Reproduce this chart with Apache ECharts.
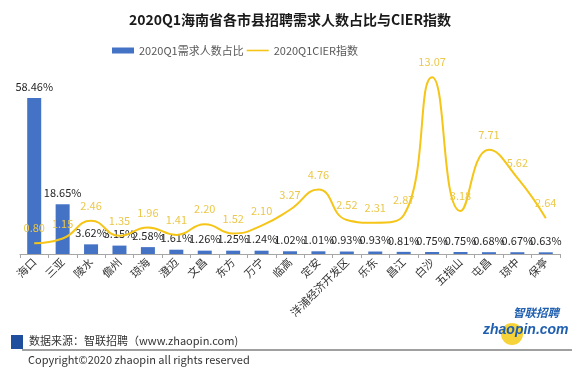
<!DOCTYPE html>
<html><head><meta charset="utf-8">
<script src="https://cdn.jsdelivr.net/npm/echarts@6/dist/echarts.min.js"></script>
<style>html,body{margin:0;padding:0;background:#fff}#c{width:580px;height:378px}</style>
</head><body><div id="c"></div>
<script>
const categories = ['海口','三亚','陵水','儋州','琼海','澄迈','文昌','东方','万宁','临高','定安','洋浦经济开发区','乐东','昌江','白沙','五指山','屯昌','琼中','保亭'];
const demandShare = [58.46,18.65,3.62,3.15,2.58,1.61,1.26,1.25,1.24,1.02,1.01,0.93,0.93,0.81,0.75,0.75,0.68,0.67,0.63];
const cierIndex = [0.80,1.15,2.46,1.35,1.96,1.41,2.20,1.52,2.10,3.27,4.76,2.52,2.31,2.87,13.07,3.18,7.71,5.62,2.64];
const seriesNames = ['2020Q1需求人数占比','2020Q1CIER指数'];

const font = '"Microsoft YaHei","Noto Sans CJK SC","Noto Sans",sans-serif';
const chart = echarts.init(document.getElementById('c'), null, {renderer:'canvas'});
chart.setOption({
  animation:false,
  textStyle:{fontFamily:font},
  title:{text:'2020Q1海南省各市县招聘需求人数占比与CIER指数',left:'center',top:8,
    textStyle:{fontSize:14,fontWeight:'bold',color:'#1a1a1a',fontFamily:font}},
  legend:{top:40,left:107,itemWidth:22,itemHeight:6,itemGap:3,
    textStyle:{fontSize:11,color:'#595959',fontFamily:font},
    data:[{name:seriesNames[0],icon:'rect'},
          {name:seriesNames[1],icon:'path://M0,0 H22 V1.6 H0 Z',itemStyle:{color:'#F5C518',opacity:1}}]},
  grid:{left:20,right:20,top:70,bottom:124},
  xAxis:{type:'category',data:categories,
    axisLine:{lineStyle:{color:'#a6a6a6'}},
    axisTick:{show:true,length:4,lineStyle:{color:'#a6a6a6'}},
    axisLabel:{rotate:45,fontSize:11,color:'#333',interval:0,margin:6,fontFamily:font}},
  yAxis:[{type:'value',min:0,max:69,show:false,splitLine:{show:false}},
         {type:'value',min:0,max:13.6,show:false,splitLine:{show:false}}],
  series:[
    {name:seriesNames[0],type:'bar',data:demandShare,barWidth:14,yAxisIndex:0,
     itemStyle:{color:'#4472C4'},
     label:{show:true,position:'top',distance:6,fontSize:11,color:'#262626',
       formatter:p=>p.value.toFixed(2)+'%'}},
    {name:seriesNames[1],type:'line',data:cierIndex,yAxisIndex:1,smooth:0.5,
     symbol:'circle',symbolSize:1,showSymbol:true,
     lineStyle:{color:'#F5C518',width:2},itemStyle:{color:'rgba(245,197,24,0)'},
     label:{show:true,position:'top',distance:9,fontSize:11,color:'#EBC84A',
       formatter:p=>p.value.toFixed(2)}},
  ],
  graphic:[
    {type:'rect',shape:{x:11,y:335,width:12,height:14},style:{fill:'#1F4E9E'}},
    {type:'text',style:{x:29,y:341,text:'数据来源：智联招聘（www.zhaopin.com)',fontSize:11,fill:'#333',verticalAlign:'middle',fontFamily:font}},
    {type:'line',shape:{x1:22,y1:350,x2:572,y2:350},style:{stroke:'#808080',lineWidth:1.5}},
    {type:'text',style:{x:28,y:360,text:'Copyright©2020 zhaopin all rights reserved',fontSize:11,fill:'#333',verticalAlign:'middle',fontFamily:font}},
    {type:'circle',shape:{cx:512,cy:334,r:11},style:{fill:'#F7D33A'}},
    {type:'text',style:{x:513,y:313,text:'智联招聘',fontSize:11.5,fontWeight:'bold',fontStyle:'italic',fill:'#1F5FAF',verticalAlign:'middle',fontFamily:font}},
    {type:'text',style:{x:483,y:330,text:'zhaopin.com',fontSize:14,fontWeight:'bold',fontStyle:'italic',fill:'#1F5FAF',verticalAlign:'middle',fontFamily:'"Liberation Sans",Arial,sans-serif'}}
  ]
});
</script></body></html>
